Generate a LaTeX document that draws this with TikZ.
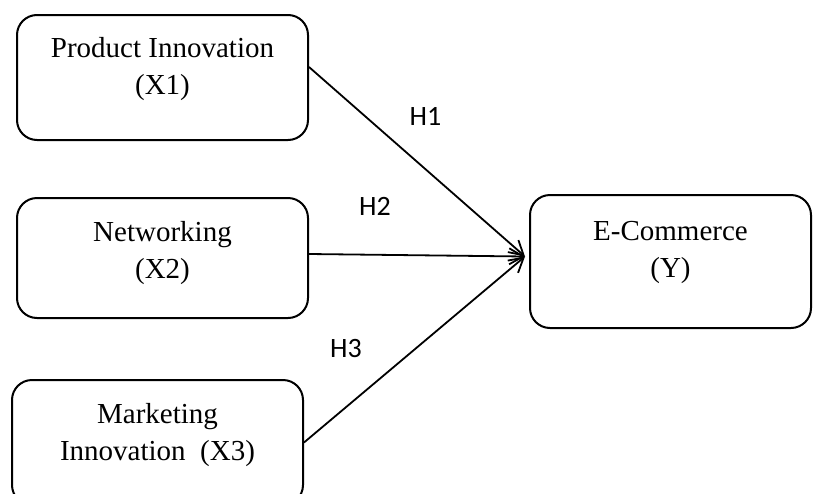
\documentclass[tikz,border=0pt]{standalone}
\usepackage{fontspec}
\setmainfont{Liberation Serif}
\newfontfamily\hfont{Carlito}
\usetikzlibrary{arrows.meta}
\usetikzlibrary{positioning}

\begin{document}
\begin{tikzpicture}[x=1pt,y=-1pt,
    varbox/.style={draw, line width=2pt, rounded corners=20pt, minimum width=291pt, minimum height=125pt, inner sep=0pt},
    vartext/.style={anchor=north, align=center, inner sep=0pt, font=\fontsize{29}{37}\selectfont},
    hyp/.style={font=\hfont\fontsize{28}{30}\selectfont, inner sep=0pt},
    hypline/.style={line width=1.8pt, -{Straight Barb[length=14pt,width=16pt,line width=1.8pt]}}
]
    \useasboundingbox (0,0) rectangle (813,493);

    % boxes
    \node[varbox] (pi) at (162.5,77.5) {};
    \node[varbox, minimum height=120pt] (nw) at (162.5,258) {};
    \node[varbox] (mi) at (157.5,442.5) {};
    \node[varbox, minimum width=281pt, minimum height=133pt] (ec) at (670.5,261.5) {};

    \node[vartext, below=23pt of pi.north] (pitext) {Product Innovation\\(X1)};
    \node[vartext, below=24.5pt of nw.north] (nwtext) {Networking\\(X2)};
    \node[vartext, below=24pt of mi.north] (mitext) {Marketing\\Innovation~~(X3)};
    \node[vartext, below=27.5pt of ec.north] (ectext) {E-Commerce\\(Y)};

    % hypotheses
    \coordinate (hub) at ([xshift=-4pt,yshift=5pt]ec.west);
    \draw[hypline] ([yshift=10.5pt]pi.east) -- (hub);
    \draw[hypline] ([yshift=4pt]nw.east) -- (hub);
    \draw[hypline] (mi.east) -- (hub);

    \node[hyp] (h1) at (425.5,116) {H1};
    \node[hyp] (h2) at (375,206.5) {H2};
    \node[hyp] (h3) at (346,349) {H3};
\end{tikzpicture}
\end{document}
